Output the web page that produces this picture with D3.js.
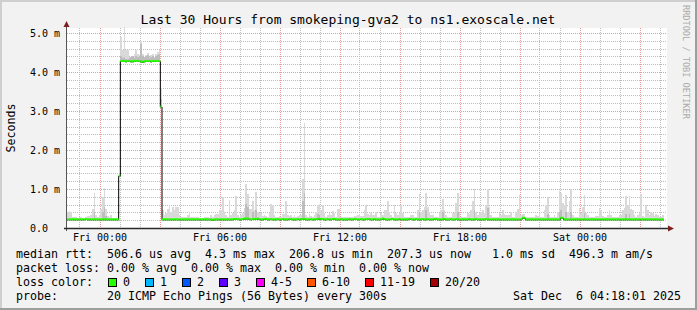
<!DOCTYPE html>
<html><head><meta charset="utf-8">
<script src="https://cdn.jsdelivr.net/npm/d3@7"></script>
<style>
html,body{margin:0;padding:0;background:#f2f2f2;}
svg{display:block;}
text{font-family:"DejaVu Sans Mono",monospace;white-space:pre;}
</style></head><body>
<svg id="chart" width="697" height="310"></svg>
<script>
// ---------------- data ----------------
const title = "Last 30 Hours from smokeping-gva2 to ns1.exoscale.net";
const yAxisTitle = "Seconds";
const watermark = "RRDTOOL / TOBI OETIKER";
const timeStart = "2025-12-04T22:22:30";
const timeEnd   = "2025-12-06T04:22:30";
const sampleStepMinutes = 5;
const yMaxMs = 5.128;
const yTickValues = [0, 1, 2, 3, 4, 5];            // ms
const yTickLabels = ["0.0", "1.0 m", "2.0 m", "3.0 m", "4.0 m", "5.0 m"];
const xTickTimes  = ["2025-12-05T00:00:00", "2025-12-05T06:00:00", "2025-12-05T12:00:00", "2025-12-05T18:00:00", "2025-12-06T00:00:00"];
const xTickLabels = ["Fri 00:00", "Fri 06:00", "Fri 12:00", "Fri 18:00", "Sat 00:00"];

// median RTT per 5-minute sample (ms)
const medianRtt = [
0.21,0.21,0.21,0.21,0.21,0.21,0.21,0.21,0.21,0.21,0.21,0.22,
0.21,0.21,0.21,0.21,0.21,0.21,0.21,0.21,0.21,0.21,0.21,0.21,
0.21,0.21,0.21,0.21,0.21,0.21,0.21,1.33,4.27,4.27,4.27,4.26,
4.27,4.27,4.26,4.26,4.27,4.27,4.27,4.27,4.26,4.25,4.26,4.27,
4.27,4.27,4.26,4.27,4.27,4.27,4.27,4.27,3.10,0.21,0.21,0.21,
0.21,0.21,0.21,0.21,0.21,0.21,0.21,0.21,0.21,0.21,0.21,0.21,
0.21,0.21,0.21,0.21,0.21,0.21,0.21,0.21,0.21,0.21,0.21,0.21,
0.21,0.21,0.21,0.20,0.21,0.21,0.21,0.21,0.21,0.21,0.21,0.21,
0.21,0.21,0.21,0.21,0.22,0.22,0.22,0.21,0.21,0.22,0.23,0.23,
0.23,0.22,0.21,0.22,0.22,0.22,0.23,0.22,0.21,0.21,0.22,0.22,
0.21,0.21,0.22,0.21,0.21,0.21,0.22,0.21,0.21,0.22,0.21,0.21,
0.21,0.22,0.22,0.21,0.21,0.21,0.22,0.21,0.22,0.22,0.22,0.21,
0.21,0.21,0.22,0.21,0.21,0.22,0.22,0.23,0.22,0.22,0.21,0.21,
0.22,0.21,0.21,0.22,0.22,0.21,0.21,0.21,0.22,0.21,0.21,0.21,
0.21,0.22,0.21,0.21,0.22,0.22,0.21,0.21,0.22,0.21,0.21,0.22,
0.22,0.22,0.21,0.21,0.22,0.21,0.21,0.21,0.22,0.23,0.22,0.21,
0.21,0.21,0.22,0.22,0.21,0.21,0.21,0.22,0.21,0.21,0.21,0.21,
0.21,0.22,0.22,0.21,0.21,0.22,0.21,0.21,0.21,0.22,0.21,0.21,
0.22,0.21,0.21,0.21,0.22,0.22,0.21,0.21,0.21,0.21,0.22,0.21,
0.21,0.21,0.22,0.21,0.21,0.22,0.21,0.21,0.21,0.21,0.21,0.21,
0.21,0.22,0.21,0.21,0.21,0.22,0.21,0.21,0.21,0.21,0.21,0.22,
0.21,0.21,0.21,0.21,0.21,0.21,0.21,0.21,0.21,0.21,0.21,0.21,
0.21,0.21,0.21,0.21,0.21,0.21,0.21,0.21,0.21,0.25,0.25,0.21,
0.21,0.21,0.21,0.21,0.21,0.21,0.21,0.21,0.21,0.21,0.21,0.21,
0.21,0.21,0.21,0.21,0.21,0.21,0.21,0.21,0.25,0.25,0.21,0.21,
0.21,0.21,0.21,0.21,0.21,0.21,0.21,0.21,0.21,0.21,0.21,0.21,
0.21,0.21,0.21,0.21,0.21,0.21,0.21,0.21,0.21,0.21,0.21,0.21,
0.21,0.21,0.21,0.21,0.21,0.21,0.21,0.21,0.21,0.21,0.21,0.21,
0.21,0.21,0.21,0.21,0.21,0.21,0.21,0.21,0.21,0.21,0.21,0.21,
0.21,0.21,0.21,0.21,0.21,0.21,0.21,0.21,0.21,0.21,null,null
];

// highest ping of each sample (top of the smoke, ms)
const smokeMax = [
0.42,0.44,0.42,0.29,0.27,0.29,0.25,0.27,0.27,0.25,0.24,0.29,
0.31,0.31,0.33,0.48,0.89,0.33,0.29,0.33,0.48,0.79,1.02,0.48,
0.31,0.29,0.33,0.25,0.25,0.25,0.24,1.40,4.90,4.56,5.15,4.56,
4.56,4.39,4.38,4.39,4.46,4.56,4.46,4.43,4.80,4.46,4.39,4.43,
4.48,4.39,4.43,4.46,4.39,4.46,4.50,4.56,3.60,0.46,0.33,0.38,
0.48,0.59,0.42,0.55,0.46,0.53,0.53,0.33,0.29,0.29,0.27,0.27,
0.33,0.42,0.29,0.29,0.27,0.27,0.27,0.25,0.25,0.25,0.27,0.27,
0.27,0.25,0.33,0.29,0.33,0.36,0.36,0.46,0.46,0.79,0.42,0.33,
0.29,0.72,0.33,0.38,0.46,0.82,0.33,0.29,0.33,0.38,0.50,1.13,
0.87,0.48,0.48,0.70,0.46,0.93,0.42,0.38,0.38,0.31,0.33,0.31,
0.29,0.38,0.62,0.59,0.33,0.29,0.29,0.31,0.29,0.36,0.36,0.70,
0.33,0.31,0.33,0.29,0.33,0.29,0.31,0.33,0.33,1.25,2.68,0.33,
0.29,0.36,0.31,0.29,0.33,0.42,0.59,0.62,0.46,0.59,0.38,0.29,
0.33,0.38,0.33,0.44,0.38,0.29,0.48,0.48,0.29,0.27,0.29,0.29,
0.27,0.29,0.27,0.29,0.31,0.31,0.33,0.36,0.31,0.31,0.46,0.59,
0.36,0.33,0.38,0.33,0.33,0.42,0.29,0.29,0.38,0.33,0.46,0.46,
0.68,0.42,0.33,0.29,0.59,0.38,0.33,0.38,0.59,0.38,0.29,0.29,
0.27,0.27,0.33,0.33,0.27,0.27,0.47,0.86,0.42,0.46,0.55,0.90,
0.55,0.42,0.33,0.33,0.29,0.27,0.27,0.38,0.46,0.75,0.46,0.33,
0.27,0.27,0.29,0.38,0.42,0.63,0.91,0.38,0.27,0.27,0.29,0.29,
0.38,0.36,0.46,0.68,1.01,0.42,0.33,0.38,0.42,0.46,0.38,0.59,
1.00,0.55,0.33,0.29,0.29,0.27,0.27,0.38,0.33,0.46,0.36,0.33,
0.33,0.33,0.42,0.29,0.27,0.40,0.48,0.85,0.33,0.36,0.36,0.27,
0.27,0.27,0.27,0.29,0.29,0.33,0.31,0.38,0.29,0.27,0.46,0.59,
0.80,0.33,0.29,0.29,0.33,0.29,0.42,0.94,0.89,0.63,0.59,0.84,
0.42,0.68,0.99,0.33,0.29,0.27,0.27,0.50,0.38,0.55,0.85,0.38,
0.33,0.29,0.29,0.29,0.27,0.31,0.31,0.50,0.46,0.31,0.27,0.27,
0.33,0.45,0.33,0.27,0.27,0.29,0.29,0.33,0.33,0.46,0.50,0.82,
0.59,0.82,0.48,0.46,0.33,0.29,0.33,0.38,0.86,0.31,0.27,0.59,
0.45,0.33,0.42,0.38,0.31,0.36,0.33,0.27,0.29,0.33,null,null
];

// [sample index, ms] where the denser (darker) part of the smoke reaches
const smokeDark = [
[32,4.40],[33,4.35],[34,4.38],[35,4.34],[36,4.33],[37,4.36],[38,4.38],[39,4.40],
[40,4.36],[41,4.42],[42,4.38],[43,4.40],[44,4.72],[45,4.42],[46,4.38],[47,4.40],
[48,4.44],[49,4.36],[50,4.38],[51,4.42],[52,4.36],[53,4.40],[54,4.44],[55,4.45],[56,3.30],
[16,0.40],[21,0.42],[22,0.55],[23,0.30],[107,0.62],[108,0.55],[111,0.40],[113,0.45],
[141,0.70],[142,0.90],[150,0.35],[151,0.33],[211,0.40],[215,0.45],[225,0.40],[234,0.40],
[244,0.45],[252,0.50],[288,0.35],[295,0.40],[296,0.45],[299,0.40],[302,0.40],[310,0.38],
[335,0.35],[337,0.35]
];

const lossLabels = ["0", "1", "2", "3", "4-5", "6-10", "11-19", "20/20"];
const lossColors = ["#26ff00", "#00b8ff", "#0059ff", "#5e00ff", "#ff00ff", "#ff5500", "#ff0000", "#a10000"];

const legendRtt   = "median rtt:  506.6 us avg  4.3 ms max  206.8 us min  207.3 us now   1.0 ms sd  496.3 m am/s";
const legendLoss  = "packet loss: 0.00 % avg  0.00 % max  0.00 % min  0.00 % now";
const legendColor = "loss color:";
const legendProbe = "probe:       20 ICMP Echo Pings (56 Bytes) every 300s";
const legendDate  = "Sat Dec  6 04:18:01 2025";

// ---------------- drawing ----------------
const W = 697, H = 310;
const plot = {left: 67, right: 667, top: 28, bottom: 228};
const svg = d3.select("#chart");
const parse = d3.timeParse("%Y-%m-%dT%H:%M:%S");
const t0 = parse(timeStart), t1 = parse(timeEnd);

const x = d3.scaleTime().domain([t0, t1]).range([plot.left, plot.right]);
const y = d3.scaleLinear().domain([0, yMaxMs]).range([plot.bottom, plot.top]);

// background & frame
svg.append("rect").attr("width", W).attr("height", H).attr("fill", "#f2f2f2");
svg.append("path").attr("d", `M0,${H}V0H${W}`).attr("fill","none").attr("stroke","#cfcfcf").attr("stroke-width",4);
svg.append("path").attr("d", `M0,${H}H${W}V0`).attr("fill","none").attr("stroke","#9e9e9e").attr("stroke-width",4);
svg.append("rect").attr("x", plot.left).attr("y", plot.top)
  .attr("width", plot.right - plot.left).attr("height", plot.bottom - plot.top).attr("fill", "#ffffff");

// grid
const grid = svg.append("g").attr("shape-rendering", "crispEdges");
const minorCol = "#bdbdbd", majorCol = "#e79a9a";
d3.range(1, 26).forEach(k => {
  const v = k * 0.2, yy = Math.round(y(v)) + 0.5, major = (k % 5 === 0);
  grid.append("line").attr("x1", plot.left).attr("x2", plot.right).attr("y1", yy).attr("y2", yy)
    .attr("stroke", major ? majorCol : minorCol).attr("stroke-dasharray", "1,1");
});
d3.timeHour.range(t0, t1).forEach(h => {
  const xx = Math.round(x(h)) + 0.5, major = (h.getHours() % 3 === 0);
  grid.append("line").attr("x1", xx).attr("x2", xx).attr("y1", plot.top).attr("y2", plot.bottom)
    .attr("stroke", major ? majorCol : minorCol).attr("stroke-dasharray", "1,1");
});

// samples
const samples = medianRtt.map((m, i) => ({
  i, t: d3.timeMinute.offset(t0, i * sampleStepMinutes),
  t2: d3.timeMinute.offset(t0, (i + 1) * sampleStepMinutes),
  m, max: smokeMax[i]
})).filter(d => d.m !== null);
const byIndex = new Map(samples.map(d => [d.i, d]));

// smoke: from the median up to the highest ping of each sample
const smoke = svg.append("g").attr("shape-rendering", "crispEdges");
smoke.selectAll("rect.light").data(samples).join("rect").attr("class", "light")
  .attr("x", d => Math.round(x(d.t)))
  .attr("width", d => Math.max(1, Math.round(x(d.t2)) - Math.round(x(d.t))))
  .attr("y", d => Math.round(y(d.max)))
  .attr("height", d => Math.max(0, Math.round(y(d.m)) - Math.round(y(d.max))))
  .attr("fill", "#d9d9d9");
smoke.selectAll("rect.dark").data(smokeDark.filter(p => byIndex.has(p[0]))).join("rect").attr("class", "dark")
  .attr("x", p => Math.round(x(byIndex.get(p[0]).t)))
  .attr("width", p => Math.max(1, Math.round(x(byIndex.get(p[0]).t2)) - Math.round(x(byIndex.get(p[0]).t))))
  .attr("y", p => Math.round(y(p[1])))
  .attr("height", p => Math.max(0, Math.round(y(byIndex.get(p[0]).m)) - Math.round(y(p[1]))))
  .attr("fill", "#bdbdbd");

// median: black step connectors, then green per-sample segments
const stepLine = d3.line().x(d => x(d.t)).y(d => y(d.m)).curve(d3.curveStepAfter);
const stepData = samples.concat([{t: samples[samples.length - 1].t2, m: samples[samples.length - 1].m}]);
svg.append("path").attr("d", stepLine(stepData)).attr("fill", "none")
  .attr("stroke", "#000").attr("stroke-width", 1);
svg.append("g").selectAll("line").data(samples).join("line")
  .attr("x1", d => x(d.t)).attr("x2", d => x(d.t2))
  .attr("y1", d => y(d.m) - 0.5).attr("y2", d => y(d.m) - 0.5)
  .attr("stroke", lossColors[0]).attr("stroke-width", 2);

// axes
const axisCol = "#2a2a2a", arrowCol = "#801f1f";
svg.append("line").attr("x1", 66.5).attr("x2", 66.5).attr("y1", 231).attr("y2", 26)
  .attr("stroke", "#555").attr("stroke-width", 1);
svg.append("line").attr("x1", 64).attr("x2", 669).attr("y1", 228.5).attr("y2", 228.5)
  .attr("stroke", axisCol).attr("stroke-width", 1.3);
svg.append("path").attr("d", "M63.5,27L66.5,21L69.5,27Z").attr("fill", arrowCol);
svg.append("path").attr("d", "M668,225.5L674,228.5L668,231.5Z").attr("fill", arrowCol);

// y tick labels
svg.append("g").selectAll("text").data(yTickValues).join("text")
  .attr("x", 30).attr("y", v => Math.round(y(v)) + 4)
  .attr("font-size", "10px").attr("fill", "#000")
  .text((v, i) => yTickLabels[i]);

// x tick labels
svg.append("g").selectAll("text").data(xTickTimes).join("text")
  .attr("x", s => x(parse(s)) + 0.5).attr("y", 241).attr("text-anchor", "middle")
  .attr("font-size", "10px").attr("fill", "#000")
  .text((s, i) => xTickLabels[i]);

// title, axis title, watermark
svg.append("text").attr("x", 348).attr("y", 24).attr("text-anchor", "middle")
  .attr("font-size", "13px").attr("fill", "#000").text(title);
svg.append("text").attr("transform", "translate(15,128) rotate(-90)").attr("text-anchor", "middle")
  .attr("font-size", "11.63px").attr("fill", "#000").text(yAxisTitle);
svg.append("text").attr("transform", "translate(683,5) rotate(90)")
  .attr("font-size", "8.6px").attr("fill", "#ababab").text(watermark);

// legend
const lg = svg.append("g").attr("font-size", "11.63px").attr("fill", "#000");
lg.append("text").attr("x", 16).attr("y", 258).text(legendRtt);
lg.append("text").attr("x", 16).attr("y", 272).text(legendLoss);
lg.append("text").attr("x", 16).attr("y", 286).text(legendColor);
lg.append("text").attr("x", 16).attr("y", 300).text(legendProbe);
lg.append("text").attr("x", 681).attr("y", 300).attr("text-anchor", "end").text(legendDate);

let lx = 108;
lossLabels.forEach((lab, i) => {
  lg.append("rect").attr("x", lx + 0.5).attr("y", 278.5).attr("width", 8).attr("height", 8)
    .attr("fill", lossColors[i]).attr("stroke", "#000").attr("stroke-width", 1);
  lg.append("text").attr("x", lx + 15).attr("y", 286).text(lab);
  lx += 15 + 7 * lab.length + 15;
});
</script>
</body></html>
